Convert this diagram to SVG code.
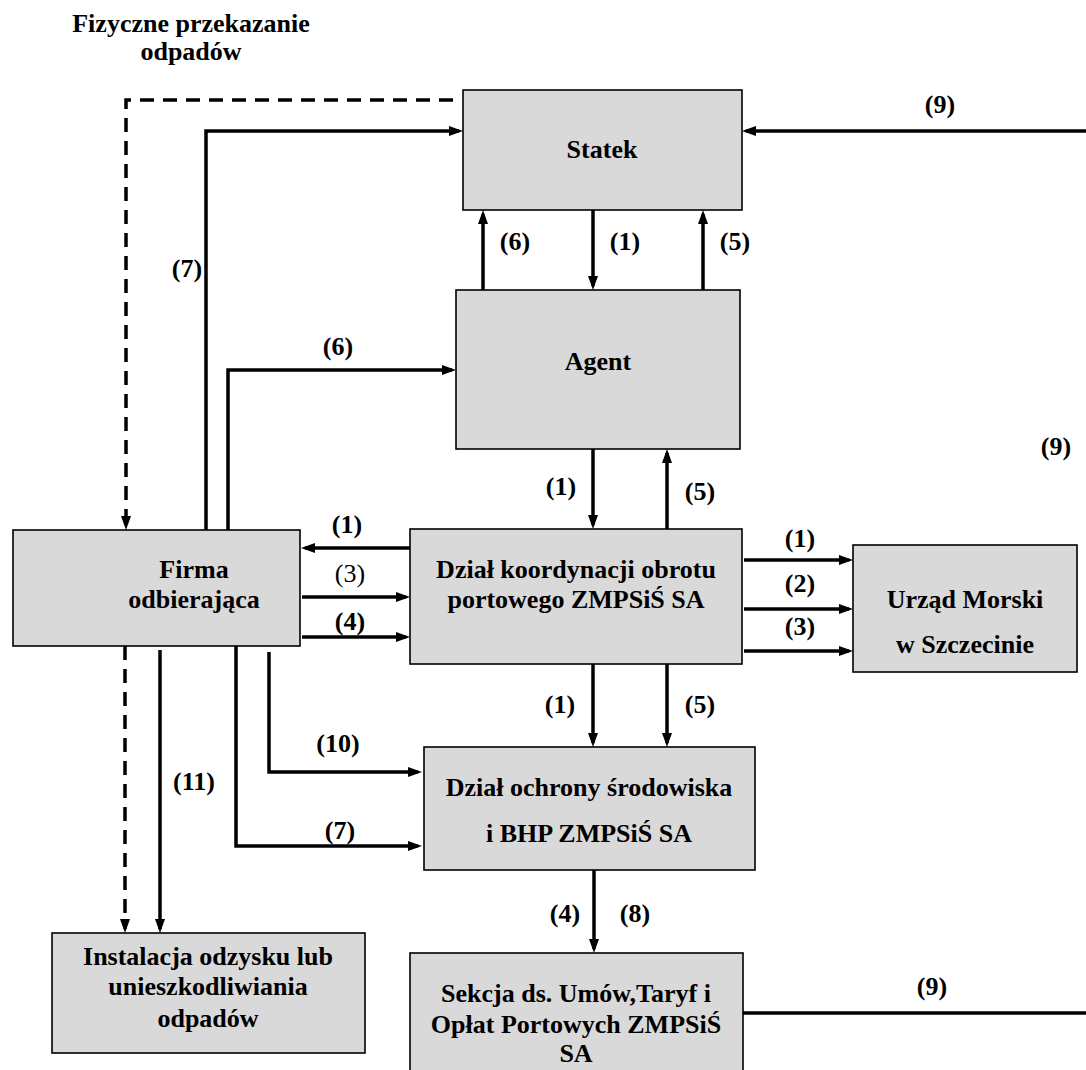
<svg xmlns="http://www.w3.org/2000/svg" width="1086" height="1070" viewBox="0 0 1086 1070">
<style>
.box{fill:#d9d9d9;stroke:#000;stroke-width:1.6}
.t{font-family:"Liberation Serif","Times New Roman",serif;font-weight:bold;font-size:26px;fill:#000;text-anchor:middle}
.n{font-weight:normal}
.ln{fill:none;stroke:#000;stroke-width:3.5}
.ar{marker-end:url(#ah)}
.da{stroke-dasharray:14 9}
</style>
<defs>
<marker id="ah" markerUnits="userSpaceOnUse" markerWidth="14" markerHeight="10" refX="10" refY="5" orient="auto">
<path d="M0,0 L14,5 L0,10 z" fill="#000"/>
</marker>
</defs>
<text class="t" x="191" y="32">Fizyczne przekazanie</text>
<text class="t" x="191" y="60">odpadów</text>
<g id="statek"><rect class="box" x="463" y="90" width="279" height="120"/><text class="t" x="602" y="158">Statek</text></g>
<g id="agent"><rect class="box" x="456" y="290" width="284" height="159"/><text class="t" x="598" y="370">Agent</text></g>
<g id="dzial-koordynacji"><rect class="box" x="410" y="529" width="332" height="135"/><text class="t" x="576" y="578">Dział koordynacji obrotu</text><text class="t" x="576" y="608">portowego ZMPSiŚ SA</text></g>
<g id="firma"><rect class="box" x="13" y="530" width="287" height="116"/><text class="t" x="194" y="578">Firma</text><text class="t" x="194" y="608">odbierająca</text></g>
<g id="urzad"><rect class="box" x="853" y="545" width="224" height="127"/><text class="t" x="965" y="608">Urząd Morski</text><text class="t" x="965" y="653">w Szczecinie</text></g>
<g id="dzial-ochrony"><rect class="box" x="424" y="747" width="331" height="123"/><text class="t" x="589" y="796">Dział ochrony środowiska</text><text class="t" x="589" y="842">i BHP ZMPSiŚ SA</text></g>
<g id="instalacja"><rect class="box" x="52" y="933" width="313" height="120"/><text class="t" x="208" y="965">Instalacja odzysku lub</text><text class="t" x="208" y="995">unieszkodliwiania</text><text class="t" x="208" y="1027">odpadów</text></g>
<g id="sekcja"><rect class="box" x="410" y="953" width="333" height="130"/><text class="t" x="576" y="1002">Sekcja ds. Umów,Taryf i</text><text class="t" x="576" y="1033">Opłat Portowych ZMPSiŚ</text><text class="t" x="576" y="1062">SA</text></g>
<g id="connectors">
<path class="ln da ar" d="M453,100 H126 V526"/>
<path class="ln ar" d="M206,530 V131 H459"/>
<path class="ln ar" d="M228,530 V370 H452"/>
<path class="ln ar" d="M1086,131 H746"/>
<path class="ln ar" d="M483,290 V214"/>
<path class="ln ar" d="M593,210 V286"/>
<path class="ln ar" d="M703,290 V214"/>
<path class="ln ar" d="M593,449 V525"/>
<path class="ln ar" d="M667,529 V453"/>
<path class="ln ar" d="M410,548 H305"/>
<path class="ln ar" d="M302,597 H406"/>
<path class="ln ar" d="M302,637 H406"/>
<path class="ln ar" d="M744,560 H849"/>
<path class="ln ar" d="M744,609 H849"/>
<path class="ln ar" d="M744,651 H849"/>
<path class="ln ar" d="M593,664 V743"/>
<path class="ln ar" d="M667,664 V743"/>
<path class="ln ar" d="M594,870 V949"/>
<path class="ln" d="M743,1013 H1086"/>
<path class="ln da ar" d="M125,646 V929"/>
<path class="ln ar" d="M160,650 V929"/>
<path class="ln ar" d="M236,646 V846 H418"/>
<path class="ln ar" d="M269,652 V772 H418"/>
<text class="t" x="940" y="113">(9)</text>
<text class="t" x="187" y="277">(7)</text>
<text class="t" x="338" y="355">(6)</text>
<text class="t" x="515" y="250">(6)</text>
<text class="t" x="625" y="250">(1)</text>
<text class="t" x="735" y="250">(5)</text>
<text class="t" x="561" y="495">(1)</text>
<text class="t" x="700" y="500">(5)</text>
<text class="t" x="1056" y="455">(9)</text>
<text class="t" x="347" y="533">(1)</text>
<text class="t n" x="350" y="582">(3)</text>
<text class="t" x="350" y="630">(4)</text>
<text class="t" x="800" y="547">(1)</text>
<text class="t" x="800" y="592">(2)</text>
<text class="t" x="800" y="635">(3)</text>
<text class="t" x="560" y="713">(1)</text>
<text class="t" x="700" y="713">(5)</text>
<text class="t" x="338" y="752">(10)</text>
<text class="t" x="194" y="790">(11)</text>
<text class="t" x="340" y="839">(7)</text>
<text class="t" x="565" y="922">(4)</text>
<text class="t" x="635" y="922">(8)</text>
<text class="t" x="932" y="995">(9)</text>
</g>
</svg>
